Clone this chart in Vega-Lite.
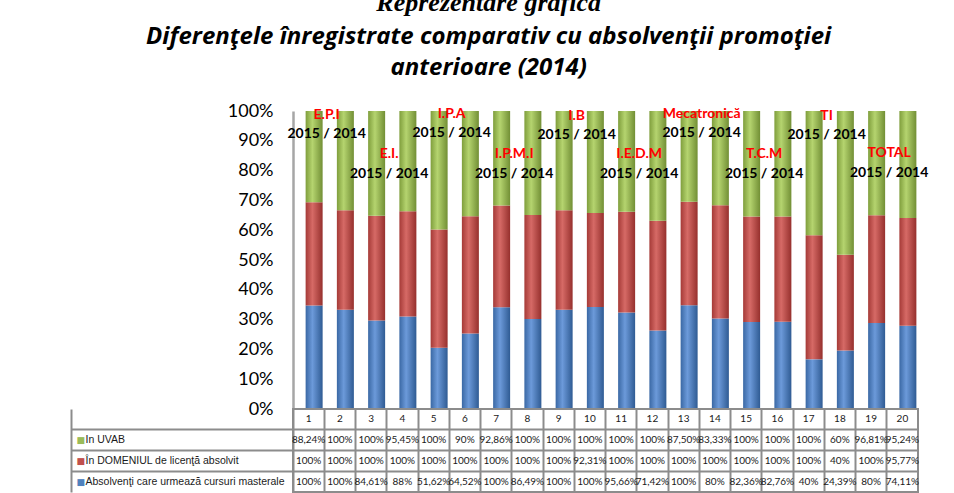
{
  "$schema": "https://vega.github.io/schema/vega-lite/v6.json",
  "padding": {"left": 69, "top": -10, "right": 10, "bottom": 0},
  "background": "white",
  "title": {
    "text": "Reprezentare grafică",
    "subtitle": ["Diferenţele înregistrate comparativ cu absolvenţii promoţiei", "anterioare (2014)"],
    "font": "Liberation Serif", "fontSize": 26, "fontWeight": "bold", "fontStyle": "italic", "color": "#000000",
    "anchor": "middle", "dx": -10,
    "subtitleFont": "Open Sans", "subtitleFontSize": 24, "subtitleFontWeight": "bold", "subtitleFontStyle": "italic",
    "subtitleColor": "#000000", "subtitleLineHeight": 31, "subtitlePadding": 9, "offset": 22
  },
  "data": {"values": [
    {"col": 1, "Absolvenţi care urmează cursuri masterale": 100, "În DOMENIUL de licenţă absolvit": 100, "In UVAB": 88.24},
    {"col": 2, "Absolvenţi care urmează cursuri masterale": 100, "În DOMENIUL de licenţă absolvit": 100, "In UVAB": 100},
    {"col": 3, "Absolvenţi care urmează cursuri masterale": 84.61, "În DOMENIUL de licenţă absolvit": 100, "In UVAB": 100},
    {"col": 4, "Absolvenţi care urmează cursuri masterale": 88, "În DOMENIUL de licenţă absolvit": 100, "In UVAB": 95.45},
    {"col": 5, "Absolvenţi care urmează cursuri masterale": 51.62, "În DOMENIUL de licenţă absolvit": 100, "In UVAB": 100},
    {"col": 6, "Absolvenţi care urmează cursuri masterale": 64.52, "În DOMENIUL de licenţă absolvit": 100, "In UVAB": 90},
    {"col": 7, "Absolvenţi care urmează cursuri masterale": 100, "În DOMENIUL de licenţă absolvit": 100, "In UVAB": 92.86},
    {"col": 8, "Absolvenţi care urmează cursuri masterale": 86.49, "În DOMENIUL de licenţă absolvit": 100, "In UVAB": 100},
    {"col": 9, "Absolvenţi care urmează cursuri masterale": 100, "În DOMENIUL de licenţă absolvit": 100, "In UVAB": 100},
    {"col": 10, "Absolvenţi care urmează cursuri masterale": 100, "În DOMENIUL de licenţă absolvit": 92.31, "In UVAB": 100},
    {"col": 11, "Absolvenţi care urmează cursuri masterale": 95.66, "În DOMENIUL de licenţă absolvit": 100, "In UVAB": 100},
    {"col": 12, "Absolvenţi care urmează cursuri masterale": 71.42, "În DOMENIUL de licenţă absolvit": 100, "In UVAB": 100},
    {"col": 13, "Absolvenţi care urmează cursuri masterale": 100, "În DOMENIUL de licenţă absolvit": 100, "In UVAB": 87.5},
    {"col": 14, "Absolvenţi care urmează cursuri masterale": 80, "În DOMENIUL de licenţă absolvit": 100, "In UVAB": 83.33},
    {"col": 15, "Absolvenţi care urmează cursuri masterale": 82.36, "În DOMENIUL de licenţă absolvit": 100, "In UVAB": 100},
    {"col": 16, "Absolvenţi care urmează cursuri masterale": 82.76, "În DOMENIUL de licenţă absolvit": 100, "In UVAB": 100},
    {"col": 17, "Absolvenţi care urmează cursuri masterale": 40, "În DOMENIUL de licenţă absolvit": 100, "In UVAB": 100},
    {"col": 18, "Absolvenţi care urmează cursuri masterale": 24.39, "În DOMENIUL de licenţă absolvit": 40, "In UVAB": 60},
    {"col": 19, "Absolvenţi care urmează cursuri masterale": 80, "În DOMENIUL de licenţă absolvit": 100, "In UVAB": 96.81},
    {"col": 20, "Absolvenţi care urmează cursuri masterale": 74.11, "În DOMENIUL de licenţă absolvit": 95.77, "In UVAB": 95.24}
  ]},
  "bounds": "flush",
  "spacing": 0,
  "vconcat": [
    {
      "width": 625,
      "height": 298,
      "view": {"stroke": null},
      "layer": [
        {
          "transform": [
            {"fold": ["Absolvenţi care urmează cursuri masterale", "În DOMENIUL de licenţă absolvit", "In UVAB"], "as": ["serie", "val"]},
            {"stack": "val", "groupby": ["col"], "offset": "normalize", "as": ["y0", "y1"]},
            {"filter": "datum.serie === 'Absolvenţi care urmează cursuri masterale'"}
          ],
          "mark": {"type": "bar", "width": 17, "xOffset": 5.5,
            "color": {"gradient": "linear", "x1": 0, "y1": 0, "x2": 1, "y2": 0,
              "stops": [{"offset": 0, "color": "#3A68A4"}, {"offset": 0.4, "color": "#6C9ADA"}, {"offset": 1, "color": "#2F5B93"}]}},
          "encoding": {
            "x": {"field": "col", "type": "ordinal", "axis": null, "scale": {"type": "band", "paddingInner": 0, "paddingOuter": 0}},
            "y": {"field": "y0", "type": "quantitative", "scale": {"domain": [0, 1], "nice": false},
              "axis": {"title": null, "format": ".0%", "values": [0, 0.1, 0.2, 0.3, 0.4, 0.5, 0.6, 0.7, 0.8, 0.9, 1],
                "labelFont": "Lato", "labelFontSize": 18, "labelColor": "#000000", "ticks": false, "labelPadding": 20,
                "domain": true, "domainColor": "#A6A6A6", "domainWidth": 2.5, "grid": false}},
            "y2": {"field": "y1"}
          }
        },
        {
          "transform": [
            {"fold": ["Absolvenţi care urmează cursuri masterale", "În DOMENIUL de licenţă absolvit", "In UVAB"], "as": ["serie", "val"]},
            {"stack": "val", "groupby": ["col"], "offset": "normalize", "as": ["y0", "y1"]},
            {"filter": "datum.serie === 'În DOMENIUL de licenţă absolvit'"}
          ],
          "mark": {"type": "bar", "width": 17, "xOffset": 5.5,
            "color": {"gradient": "linear", "x1": 0, "y1": 0, "x2": 1, "y2": 0,
              "stops": [{"offset": 0, "color": "#A53A37"}, {"offset": 0.4, "color": "#D66A66"}, {"offset": 1, "color": "#96302D"}]}},
          "encoding": {
            "x": {"field": "col", "type": "ordinal", "axis": null},
            "y": {"field": "y0", "type": "quantitative", "axis": {"title": null, "format": ".0%", "values": [0, 0.1, 0.2, 0.3, 0.4, 0.5, 0.6, 0.7, 0.8, 0.9, 1],
                "labelFont": "Lato", "labelFontSize": 18, "labelColor": "#000000", "ticks": false, "labelPadding": 20,
                "domain": true, "domainColor": "#A6A6A6", "domainWidth": 2.5, "grid": false}},
            "y2": {"field": "y1"}
          }
        },
        {
          "transform": [
            {"fold": ["Absolvenţi care urmează cursuri masterale", "În DOMENIUL de licenţă absolvit", "In UVAB"], "as": ["serie", "val"]},
            {"stack": "val", "groupby": ["col"], "offset": "normalize", "as": ["y0", "y1"]},
            {"filter": "datum.serie === 'In UVAB'"}
          ],
          "mark": {"type": "bar", "width": 17, "xOffset": 5.5,
            "color": {"gradient": "linear", "x1": 0, "y1": 0, "x2": 1, "y2": 0,
              "stops": [{"offset": 0, "color": "#7F9E3C"}, {"offset": 0.4, "color": "#B5D46F"}, {"offset": 1, "color": "#728F35"}]}},
          "encoding": {
            "x": {"field": "col", "type": "ordinal", "axis": null},
            "y": {"field": "y0", "type": "quantitative", "axis": {"title": null, "format": ".0%", "values": [0, 0.1, 0.2, 0.3, 0.4, 0.5, 0.6, 0.7, 0.8, 0.9, 1],
                "labelFont": "Lato", "labelFontSize": 18, "labelColor": "#000000", "ticks": false, "labelPadding": 20,
                "domain": true, "domainColor": "#A6A6A6", "domainWidth": 2.5, "grid": false}},
            "y2": {"field": "y1"}
          }
        },
        {
          "data": {"values": [
            {"col": 1, "txt": "E.P.I", "lvl": 0.986, "kind": "name"},
            {"col": 1, "txt": "2015 / 2014", "lvl": 0.923, "kind": "year"},
            {"col": 3, "txt": "E.I.", "lvl": 0.856, "kind": "name"},
            {"col": 3, "txt": "2015 / 2014", "lvl": 0.79, "kind": "year"},
            {"col": 5, "txt": "I.P.A", "lvl": 0.99, "kind": "name"},
            {"col": 5, "txt": "2015 / 2014", "lvl": 0.926, "kind": "year"},
            {"col": 7, "txt": "I.P.M.I", "lvl": 0.856, "kind": "name"},
            {"col": 7, "txt": "2015 / 2014", "lvl": 0.789, "kind": "year"},
            {"col": 9, "txt": "I.B", "lvl": 0.983, "kind": "name"},
            {"col": 9, "txt": "2015 / 2014", "lvl": 0.918, "kind": "year"},
            {"col": 11, "txt": "I.E.D.M", "lvl": 0.856, "kind": "name"},
            {"col": 11, "txt": "2015 / 2014", "lvl": 0.789, "kind": "year"},
            {"col": 13, "txt": "Mecatronică", "lvl": 0.99, "kind": "name"},
            {"col": 13, "txt": "2015 / 2014", "lvl": 0.926, "kind": "year"},
            {"col": 15, "txt": "T.C.M", "lvl": 0.856, "kind": "name"},
            {"col": 15, "txt": "2015 / 2014", "lvl": 0.789, "kind": "year"},
            {"col": 17, "txt": "TI", "lvl": 0.983, "kind": "name"},
            {"col": 17, "txt": "2015 / 2014", "lvl": 0.92, "kind": "year"},
            {"col": 19, "txt": "TOTAL", "lvl": 0.859, "kind": "name"},
            {"col": 19, "txt": "2015 / 2014", "lvl": 0.792, "kind": "year"}
          ]},
          "mark": {"type": "text", "dx": 18, "font": "Lato", "fontSize": 14, "fontWeight": "bold", "baseline": "middle", "align": "center"},
          "encoding": {
            "x": {"field": "col", "type": "ordinal", "axis": null},
            "y": {"field": "lvl", "type": "quantitative", "axis": {"title": null, "format": ".0%", "values": [0, 0.1, 0.2, 0.3, 0.4, 0.5, 0.6, 0.7, 0.8, 0.9, 1],
                "labelFont": "Lato", "labelFontSize": 18, "labelColor": "#000000", "ticks": false, "labelPadding": 20,
                "domain": true, "domainColor": "#A6A6A6", "domainWidth": 2.5, "grid": false}},
            "text": {"field": "txt"},
            "color": {"field": "kind", "type": "nominal", "scale": {"domain": ["name", "year"], "range": ["#FF0000", "#000000"]}, "legend": null}
          }
        }
      ]
    },
    {
      "width": 625,
      "height": 83,
      "view": {"stroke": "#8C8C8C", "strokeWidth": 2},
      "resolve": {"axis": {"y": "independent"}},
      "layer": [
        {
          "mark": {"type": "text", "font": "Lato", "fontSize": 10, "color": "#1A1A1A", "baseline": "middle"},
          "encoding": {
            "x": {"field": "col", "type": "ordinal", "scale": {"type": "band", "paddingInner": 0, "paddingOuter": 0},
              "axis": {"title": null, "labels": false, "ticks": false, "domain": false, "grid": true, "bandPosition": 0, "gridColor": "#8C8C8C", "gridWidth": 2}},
            "y": {"datum": "hdr", "type": "nominal",
              "scale": {"type": "band", "domain": ["hdr", "In UVAB", "În DOMENIUL de licenţă absolvit", "Absolvenţi care urmează cursuri masterale"], "paddingInner": 0, "paddingOuter": 0},
              "axis": {"orient": "left", "title": null,
                "values": ["In UVAB", "În DOMENIUL de licenţă absolvit", "Absolvenţi care urmează cursuri masterale"],
                "bandPosition": 0, "tickExtra": false, "ticks": true, "tickSize": 222, "tickColor": "#8C8C8C", "tickWidth": 2,
                "domain": false, "grid": true, "gridColor": "#8C8C8C", "gridWidth": 2,
                "labelAlign": "left", "labelBaseline": "middle", "labelPadding": -14, "labelOffset": 0,
                "labelFont": "Liberation Sans", "labelFontSize": 10.5, "labelColor": "#1A1A1A", "labelLimit": 0}},
            "text": {"field": "col"}
          }
        },
        {
          "transform": [
            {"fold": ["Absolvenţi care urmează cursuri masterale", "În DOMENIUL de licenţă absolvit", "In UVAB"], "as": ["serie", "val"]},
            {"calculate": "(datum.val % 1 ? replace(format(datum.val, '.2f'), '.', ',') : format(datum.val, 'd')) + '%'", "as": "lbl"}
          ],
          "mark": {"type": "text", "font": "Lato", "fontSize": 10, "color": "#1A1A1A", "baseline": "middle"},
          "encoding": {
            "x": {"field": "col", "type": "ordinal",
              "axis": {"title": null, "labels": false, "ticks": false, "domain": false, "grid": true, "bandPosition": 0, "gridColor": "#8C8C8C", "gridWidth": 2}},
            "y": {"field": "serie", "type": "nominal",
              "axis": {"orient": "left", "offset": 222, "title": null, "domain": true, "domainColor": "#8C8C8C", "domainWidth": 2,
                "ticks": false, "grid": false,
                "labelExpr": "datum.value === 'hdr' ? '' : '■'",
                "labelAlign": "left", "labelBaseline": "middle", "labelPadding": -5, "labelFontSize": 9, "labelFont": "DejaVu Sans",
                "labelColor": {"condition": [
                  {"test": "datum.value === 'In UVAB'", "value": "#9BBB59"},
                  {"test": "datum.value === 'În DOMENIUL de licenţă absolvit'", "value": "#C0504D"}
                ], "value": "#4F81BD"}}},
            "text": {"field": "lbl"}
          }
        }
      ]
    }
  ]
}
